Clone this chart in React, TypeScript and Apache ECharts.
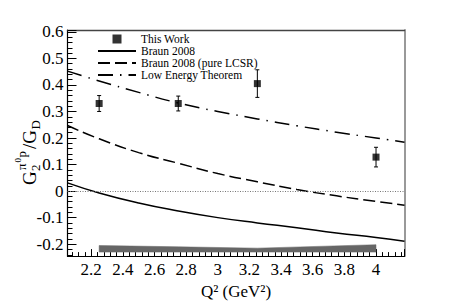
import React, { useEffect, useRef } from "react";
import * as echarts from "echarts";

// Measured points ("This Work")
const q2Points = [2.25, 2.75, 3.25, 4.0];
const ratioValues = [0.33, 0.33, 0.405, 0.128];
const ratioErrors = [0.03, 0.028, 0.052, 0.037];

// Theory curves sampled along Q^2
const curveQ2 = [2.05, 2.25, 2.5, 2.75, 3.0, 3.25, 3.5, 3.75, 4.0, 4.18];
const braunValues = [0.031, -0.007, -0.045, -0.075, -0.1, -0.12, -0.138, -0.158, -0.175, -0.189];
const lcsrValues = [0.247, 0.197, 0.145, 0.105, 0.066, 0.035, 0.006, -0.018, -0.039, -0.053];
const letValues = [0.452, 0.415, 0.372, 0.332, 0.3, 0.272, 0.246, 0.222, 0.2, 0.184];

// Systematic error band
const bandQ2 = [2.25, 2.75, 3.25, 4.0];
const bandUpper = [-0.205, -0.21, -0.215, -0.202];
const bandLower = [-0.23, -0.23, -0.23, -0.23];

const seriesNames = ["This Work", "Braun 2008", "Braun 2008 (pure LCSR)", "Low Energy Theorem"];

const FONT = "'Liberation Serif', 'DejaVu Serif', 'Times New Roman', serif";

export default function App() {
  const ref = useRef<HTMLDivElement>(null);
  useEffect(() => {
    document.body.style.margin = "0";
    if (!ref.current) return;
    const chart = echarts.init(ref.current, undefined, { renderer: "svg" });

    const pair = (xs: number[], ys: number[]) => xs.map((x, i) => [x, ys[i]]);

    const titleParts: any[] = [
      { text: "G", x: 0, y: 0, size: 19 },
      { text: "2", x: 14, y: 6.5, size: 13 },
      { text: "π", x: 15, y: -7.5, size: 13 },
      { text: "0", x: 22.5, y: -11.5, size: 9 },
      { text: "p", x: 27.5, y: -7.5, size: 13 },
      { text: "/G", x: 36, y: 0, size: 19 },
      { text: "D", x: 55.5, y: 6.5, size: 13 },
    ];

    const hideSymbol = { itemStyle: { opacity: 0 } };

    const option: any = {
      animation: false,
      textStyle: { fontFamily: FONT },
      grid: { left: 67.5, right: 45.5, top: 30, bottom: 47, containLabel: false },
      legend: {
        orient: "vertical",
        left: 97,
        top: 33,
        padding: 0,
        itemGap: 0,
        itemWidth: 38,
        itemHeight: 9,
        symbolKeepAspect: true,
        textStyle: { fontFamily: FONT, fontSize: 11.5, color: "#000", lineHeight: 10 },
        data: [
          { name: seriesNames[0], icon: "path://M0,0L10,0L10,10L0,10Z" },
          { name: seriesNames[1], ...hideSymbol },
          { name: seriesNames[2], ...hideSymbol },
          { name: seriesNames[3], ...hideSymbol },
        ],
      },
      xAxis: [
        {
          type: "value",
          min: 2.05,
          max: 4.18,
          splitNumber: 10,
          minInterval: 0.2,
          maxInterval: 0.2,
          axisLine: { onZero: false, lineStyle: { color: "#000", width: 1.2 } },
          axisTick: { inside: true, length: 7, lineStyle: { color: "#000" } },
          minorTick: { show: true, splitNumber: 5, length: 4, lineStyle: { color: "#000" } },
          splitLine: { show: false },
          axisLabel: {
            showMinLabel: false,
            showMaxLabel: false,
            margin: 5,
            fontFamily: FONT,
            fontSize: 17,
            color: "#000",
          },
          name: "Q² (GeV²)",
          nameLocation: "middle",
          nameGap: 25,
          nameTextStyle: { fontFamily: FONT, fontSize: 17, color: "#000" },
        },
        {
          type: "value",
          position: "top",
          min: 2.05,
          max: 4.18,
          axisLine: { onZero: false, lineStyle: { color: "#444", width: 1.3 } },
          axisTick: { show: false },
          axisLabel: { show: false },
          splitLine: { show: false },
        },
      ],
      yAxis: [
        {
          type: "value",
          min: -0.245,
          max: 0.607,
          splitNumber: 8,
          minInterval: 0.1,
          maxInterval: 0.1,
          axisLine: { onZero: false, lineStyle: { color: "#000", width: 1.2 } },
          axisTick: { inside: true, length: 9, lineStyle: { color: "#000" } },
          minorTick: { show: true, splitNumber: 5, length: 5, lineStyle: { color: "#000" } },
          splitLine: { show: false },
          axisLabel: {
            showMinLabel: false,
            showMaxLabel: false,
            margin: 4,
            fontFamily: FONT,
            fontSize: 17,
            color: "#000",
          },
        },
        {
          type: "value",
          position: "right",
          min: -0.245,
          max: 0.607,
          axisLine: { show: true, onZero: false, lineStyle: { color: "#999", width: 2 } },
          axisTick: { show: false },
          axisLabel: { show: false },
          splitLine: { show: false },
        },
      ],
      graphic: [
        {
          type: "group",
          x: 29,
          y: 185,
          rotation: Math.PI / 2,
          children: titleParts.map((p) => ({
            type: "text",
            x: p.x,
            y: p.y,
            style: {
              text: p.text,
              fontFamily: FONT,
              fontSize: p.size,
              fill: "#000",
              align: "left",
              verticalAlign: "middle",
            },
          })),
        },
      ],
      series: [
        {
          name: "band",
          type: "custom",
          silent: true,
          z: 1,
          data: [[bandQ2[0], bandLower[0]]],
          encode: { x: 0, y: 1 },
          renderItem: (_params: any, api: any) => {
            const pts: number[][] = [];
            bandQ2.forEach((x, i) => pts.push(api.coord([x, bandUpper[i]])));
            for (let i = bandQ2.length - 1; i >= 0; i--) pts.push(api.coord([bandQ2[i], bandLower[i]]));
            return { type: "polygon", shape: { points: pts }, style: { fill: "#666", stroke: "#666", lineWidth: 0.5 } };
          },
        },
        {
          name: seriesNames[1],
          type: "line",
          data: pair(curveQ2, braunValues),
          smooth: true,
          symbol: "none",
          itemStyle: { color: "#000" },
          lineStyle: { color: "#000", width: 1.5, type: "solid" },
          z: 3,
          markLine: {
            silent: true,
            symbol: ["none", "none"],
            label: { show: false },
            lineStyle: { color: "#777", width: 1, type: [1, 1.5] },
            data: [{ yAxis: 0 }],
          },
        },
        {
          name: seriesNames[2],
          type: "line",
          data: pair(curveQ2, lcsrValues),
          smooth: true,
          symbol: "none",
          itemStyle: { color: "#000" },
          lineStyle: { color: "#000", width: 1.5, type: [12, 5] },
          z: 3,
        },
        {
          name: seriesNames[3],
          type: "line",
          data: pair(curveQ2, letValues),
          smooth: true,
          symbol: "none",
          itemStyle: { color: "#000" },
          lineStyle: { color: "#000", width: 1.5, type: [15, 7, 1.5, 7] },
          z: 3,
        },
        {
          name: "errors",
          type: "custom",
          z: 4,
          data: q2Points.map((x, i) => [x, ratioValues[i], ratioErrors[i]]),
          encode: { x: 0, y: 1 },
          renderItem: (_params: any, api: any) => {
            const x = api.value(0);
            const y = api.value(1);
            const e = api.value(2);
            const top = api.coord([x, y + e]);
            const bot = api.coord([x, y - e]);
            const cap = 2;
            const st = { stroke: "#000", lineWidth: 1 };
            return {
              type: "group",
              children: [
                { type: "line", shape: { x1: top[0], y1: top[1], x2: bot[0], y2: bot[1] }, style: st },
                { type: "line", shape: { x1: top[0] - cap, y1: top[1], x2: top[0] + cap, y2: top[1] }, style: st },
                { type: "line", shape: { x1: bot[0] - cap, y1: bot[1], x2: bot[0] + cap, y2: bot[1] }, style: st },
              ],
            };
          },
        },
        {
          name: seriesNames[0],
          type: "scatter",
          symbol: "rect",
          symbolSize: 7,
          itemStyle: { color: "#000" },
          data: pair(q2Points, ratioValues),
          z: 5,
        },
      ],
    };

    chart.setOption(option);
    return () => chart.dispose();
  }, []);

  return <div ref={ref} style={{ width: 450, height: 305 }} />;
}
